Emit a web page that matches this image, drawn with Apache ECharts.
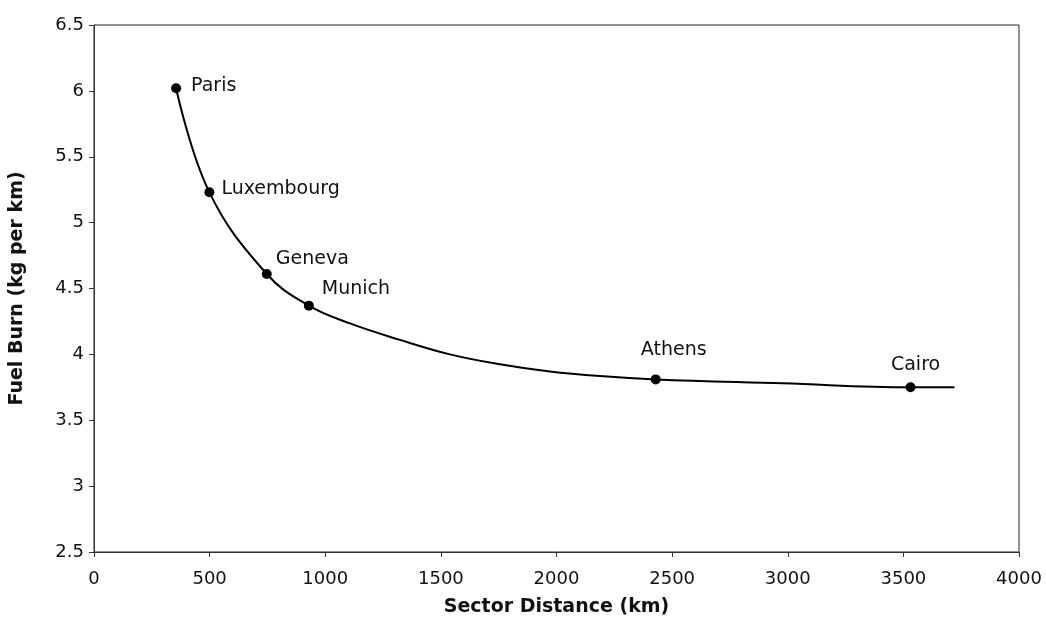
<!DOCTYPE html>
<html>
<head>
<meta charset="utf-8">
<script src="https://cdn.jsdelivr.net/npm/echarts@6/dist/echarts.min.js"></script>
<style>
html,body{margin:0;padding:0;background:#fff;}
#chart{width:1046px;height:626px;}
</style>
</head>
<body>
<div id="chart"></div>
<script>
// Marked cities
var cityNames = ['Paris', 'Luxembourg', 'Geneva', 'Munich', 'Athens', 'Cairo'];
var cityDistance = [355, 499, 747, 929, 2429, 3531];
var cityFuel = [6.02, 5.23, 4.61, 4.37, 3.81, 3.75];

// Fitted curve
var curveDistance = [355, 499, 747, 929, 1107, 1323, 1539, 1755, 1971, 2187, 2429, 2978, 3531, 3721];
var curveFuel = [6.02, 5.23, 4.61, 4.37, 4.235, 4.11, 4.00, 3.925, 3.87, 3.835, 3.81, 3.78, 3.75, 3.75];

// Axes
var xTicks = [0, 500, 1000, 1500, 2000, 2500, 3000, 3500, 4000];
var yTicks = [2.5, 3, 3.5, 4, 4.5, 5, 5.5, 6, 6.5];

var labelPlacement = {
  'Paris': {position: 'right', distance: 10, offset: [0, -2]},
  'Luxembourg': {position: 'right', distance: 7, offset: [0, -3]},
  'Geneva': {position: 'right', distance: 4, offset: [0, -15]},
  'Munich': {position: 'right', distance: 8, offset: [0, -17]},
  'Athens': {position: 'top', distance: 5, offset: [18, -10]},
  'Cairo': {position: 'top', distance: 5, offset: [5, -3]}
};

var font = '"DejaVu Sans", "Liberation Sans", Arial, sans-serif';
var textColor = '#111';

var curveData = curveDistance.map(function (d, i) { return [d, curveFuel[i]]; });
var cityData = cityNames.map(function (n, i) {
  var p = labelPlacement[n];
  return {
    name: n,
    value: [cityDistance[i], cityFuel[i]],
    label: {show: true, formatter: n, position: p.position, distance: p.distance, offset: p.offset,
            color: textColor, fontFamily: font, fontSize: 19}
  };
});

var chart = echarts.init(document.getElementById('chart'));
chart.setOption({
  animation: false,
  backgroundColor: '#fff',
  grid: {left: 94, right: 27, top: 25, bottom: 74, show: true, borderColor: '#222', borderWidth: 1},
  xAxis: {
    type: 'value', min: xTicks[0], max: xTicks[xTicks.length - 1], interval: 500,
    name: 'Sector Distance (km)', nameLocation: 'middle', nameGap: 46,
    nameTextStyle: {fontFamily: font, fontWeight: 'bold', fontSize: 19, color: textColor},
    axisLine: {show: true, lineStyle: {color: '#333', width: 1}},
    axisTick: {show: true, inside: false, length: 5, lineStyle: {color: '#333'}},
    axisLabel: {fontFamily: font, fontSize: 18, color: textColor, margin: 18,
                formatter: function (v) { return String(v); }},
    splitLine: {show: false}
  },
  yAxis: {
    type: 'value', min: yTicks[0], max: yTicks[yTicks.length - 1], interval: 0.5,
    name: 'Fuel Burn (kg per km)', nameLocation: 'middle', nameGap: 67,
    nameTextStyle: {fontFamily: font, fontWeight: 'bold', fontSize: 19, color: textColor},
    axisLine: {show: true, lineStyle: {color: '#333', width: 1}},
    axisTick: {show: true, inside: false, length: 5, lineStyle: {color: '#333'}},
    axisLabel: {fontFamily: font, fontSize: 18, color: textColor, margin: 10,
                formatter: function (v) { return String(v); }},
    splitLine: {show: false}
  },
  series: [
    {
      type: 'line', data: curveData, smooth: 0.4, showSymbol: false, symbol: 'none',
      lineStyle: {color: '#000', width: 2}, z: 2
    },
    {
      type: 'scatter', data: cityData, symbol: 'circle', symbolSize: 10,
      itemStyle: {color: '#000', opacity: 1}, z: 3
    }
  ]
});
</script>
</body>
</html>
